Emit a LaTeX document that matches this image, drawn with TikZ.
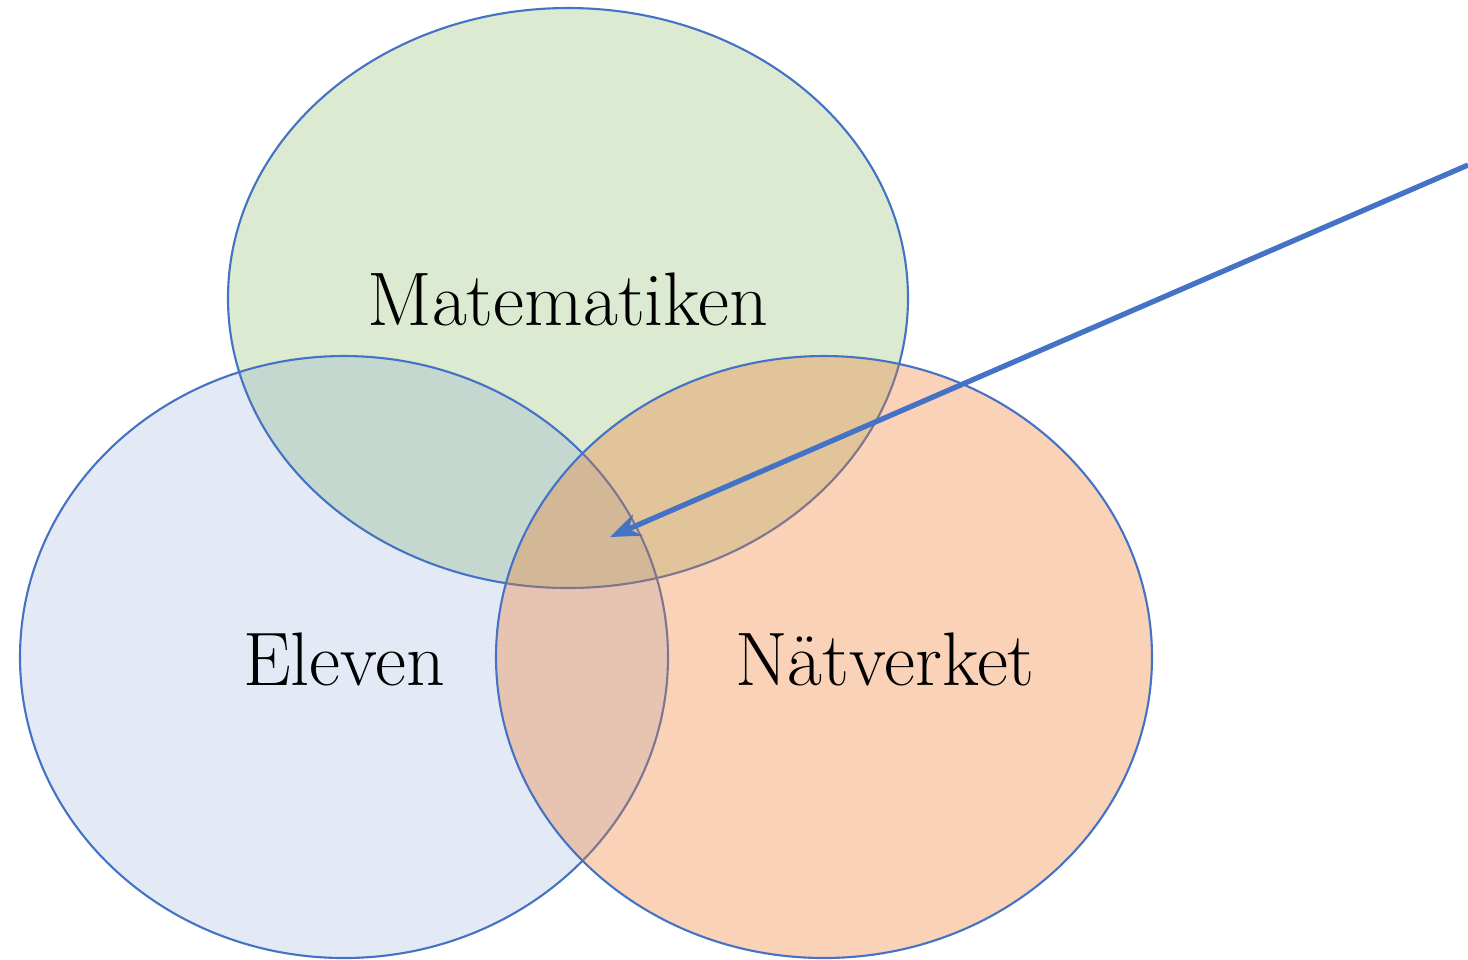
\documentclass[tikz,border=0pt]{standalone}
\usepackage{fontspec}
\usetikzlibrary{shapes.geometric,arrows.meta}

\definecolor{linjeblue}{HTML}{4472C4}
\definecolor{matgreen}{HTML}{70AD47}
\definecolor{elevblue}{HTML}{4472C4}
\definecolor{natorange}{HTML}{ED7D31}

\begin{document}
\begin{tikzpicture}[x=0.1mm, y=-0.1mm,
  venn/.style={ellipse, draw=linjeblue, line width=0.6pt, inner sep=0pt},
  lbl/.style={anchor=base, font=\fontsize{21.6}{26}\selectfont},
  pil/.style={-{Stealth[length=3mm, width=2.3mm]}, draw=linjeblue, line width=1.5pt}]
  \useasboundingbox (0,0) rectangle (1468,959);

  % the three circles
  \node[venn, fill=matgreen, fill opacity=0.25, minimum width=68mm, minimum height=58mm] (mat) at (568,298) {};
  \node[venn, fill=elevblue, fill opacity=0.15, minimum width=64.8mm, minimum height=60.2mm] (elev) at (344,657) {};
  \node[venn, fill=natorange, fill opacity=0.35, minimum width=65.6mm, minimum height=60.2mm] (nat) at (824,657) {};

  \node[lbl] (matlbl) at (568,325) {Matematiken};
  \node[lbl] (elevlbl) at (344,685) {Eleven};
  \node[lbl] (natlbl) at (885,685) {Nätverket};

  % arrow into the middle
  \coordinate (start) at (1468,165);
  \coordinate (mitt) at (610,537);
  \draw[pil] (start) -- (mitt);
\end{tikzpicture}
\end{document}
